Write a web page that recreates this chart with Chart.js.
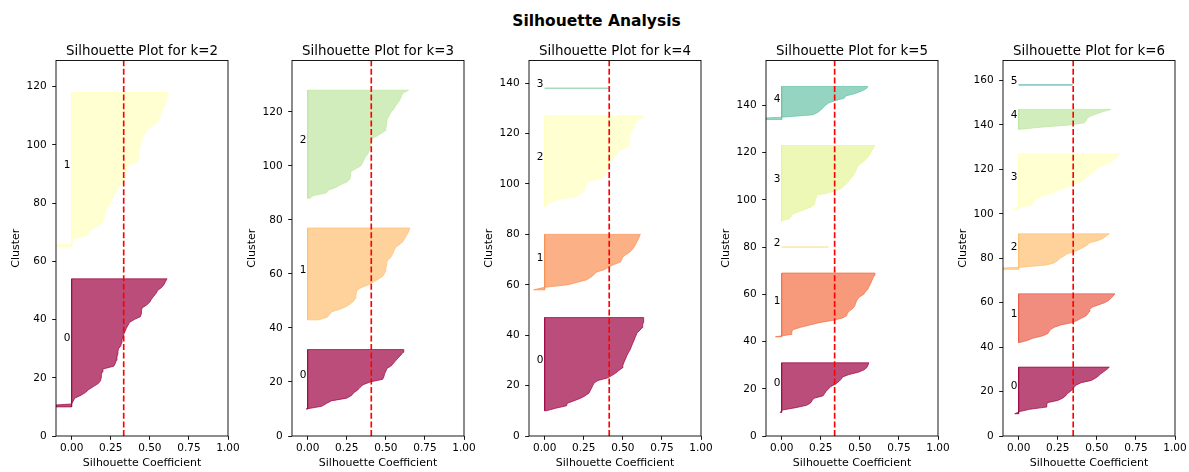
<!DOCTYPE html>
<html>
<head>
<meta charset="utf-8">
<title>Silhouette Analysis</title>
<script src="https://cdn.jsdelivr.net/npm/chart.js@4.4.1/dist/chart.umd.min.js"></script>
<style>
  html, body { margin: 0; padding: 0; background: #fff; }
  #fig { position: relative; width: 1189px; height: 472px; overflow: hidden; }
  #suptitle {
    position: absolute; left: 2px; top: 12px; width: 1189px; margin: 0;
    text-align: center; font: bold 15.5px "DejaVu Sans", sans-serif; color: #000;
  }
  .panel { position: absolute; top: 0; }
</style>
</head>
<body>
<div id="fig">
  <h1 id="suptitle">Silhouette Analysis</h1>
</div>
<script>
// Number of clusters for each panel and the mean silhouette score of each clustering
const kValues = [2, 3, 4, 5, 6];
const avgScores = [0.333, 0.407, 0.413, 0.339, 0.349];

// Axis ticks
const xTickValues = [0, 0.25, 0.5, 0.75, 1.0];
const yTickStep = 20;

// Sorted silhouette coefficients of the samples in each cluster
const silK2 = [
  [-0.3, 0.00, 0.01, 0.02, 0.06, 0.09, 0.11, 0.14, 0.17, 0.185, 0.188, 0.19, 0.195, 0.20, 0.27, 0.28, 0.285, 0.29, 0.293, 0.296, 0.30, 0.315, 0.318, 0.322, 0.328, 0.334, 0.342, 0.35, 0.36, 0.37, 0.40, 0.44, 0.445, 0.447, 0.45, 0.48, 0.50, 0.51, 0.525, 0.54, 0.55, 0.575, 0.59, 0.60, 0.61],
  [-0.3, 0.00, 0.01, 0.03, 0.10, 0.11, 0.125, 0.16, 0.19, 0.205, 0.207, 0.21, 0.215, 0.22, 0.237, 0.245, 0.255, 0.263, 0.275, 0.286, 0.292, 0.305, 0.33, 0.34, 0.342, 0.345, 0.348, 0.352, 0.357, 0.42, 0.425, 0.428, 0.43, 0.432, 0.435, 0.438, 0.442, 0.448, 0.46, 0.468, 0.485, 0.50, 0.53, 0.55, 0.56, 0.565, 0.57, 0.58, 0.595, 0.598, 0.60, 0.61, 0.615, 0.617]
];
const silK3 = [
  [-0.01, 0.09, 0.12, 0.15, 0.25, 0.28, 0.295, 0.32, 0.335, 0.355, 0.40, 0.48, 0.488, 0.492, 0.50, 0.507, 0.535, 0.55, 0.565, 0.58, 0.597, 0.61, 0.615],
  [0.07, 0.125, 0.14, 0.155, 0.21, 0.25, 0.275, 0.295, 0.304, 0.308, 0.312, 0.316, 0.345, 0.39, 0.42, 0.45, 0.478, 0.49, 0.497, 0.50, 0.503, 0.506, 0.51, 0.53, 0.54, 0.548, 0.555, 0.565, 0.59, 0.61, 0.62, 0.63, 0.64, 0.648, 0.653],
  [0.015, 0.035, 0.12, 0.13, 0.18, 0.21, 0.25, 0.27, 0.272, 0.275, 0.278, 0.31, 0.34, 0.35, 0.358, 0.365, 0.38, 0.39, 0.395, 0.40, 0.403, 0.407, 0.41, 0.44, 0.47, 0.495, 0.50, 0.502, 0.505, 0.508, 0.515, 0.525, 0.535, 0.55, 0.56, 0.572, 0.585, 0.595, 0.60, 0.61, 0.645]
];
const silK4 = [
  [0.01, 0.07, 0.14, 0.145, 0.19, 0.23, 0.26, 0.283, 0.292, 0.30, 0.308, 0.316, 0.34, 0.40, 0.43, 0.455, 0.475, 0.496, 0.50, 0.506, 0.513, 0.52, 0.527, 0.535, 0.545, 0.552, 0.558, 0.565, 0.572, 0.578, 0.585, 0.592, 0.61, 0.623, 0.627, 0.63, 0.632, 0.635],
  [-0.07, 0.0, 0.15, 0.21, 0.27, 0.295, 0.315, 0.33, 0.38, 0.41, 0.44, 0.485, 0.493, 0.50, 0.52, 0.545, 0.56, 0.572, 0.582, 0.59, 0.598, 0.605, 0.612],
  [0.0, 0.015, 0.05, 0.10, 0.205, 0.22, 0.25, 0.255, 0.262, 0.268, 0.272, 0.35, 0.38, 0.392, 0.40, 0.403, 0.406, 0.41, 0.425, 0.44, 0.45, 0.462, 0.474, 0.50, 0.535, 0.538, 0.54, 0.542, 0.545, 0.55, 0.558, 0.565, 0.572, 0.58, 0.59, 0.61, 0.632],
  [0.41]
];
const silK5 = [
  [-0.01, 0.005, 0.09, 0.16, 0.185, 0.195, 0.207, 0.265, 0.275, 0.285, 0.30, 0.315, 0.345, 0.365, 0.38, 0.39, 0.43, 0.49, 0.527, 0.545, 0.552, 0.558],
  [-0.04, 0.06, 0.065, 0.07, 0.12, 0.18, 0.24, 0.33, 0.39, 0.417, 0.42, 0.435, 0.455, 0.467, 0.472, 0.478, 0.486, 0.50, 0.525, 0.535, 0.55, 0.557, 0.565, 0.572, 0.578, 0.585, 0.592, 0.597],
  [0.30],
  [-0.005, 0.05, 0.062, 0.068, 0.11, 0.15, 0.19, 0.207, 0.212, 0.216, 0.22, 0.224, 0.30, 0.35, 0.385, 0.40, 0.418, 0.43, 0.44, 0.455, 0.465, 0.472, 0.478, 0.484, 0.50, 0.52, 0.537, 0.55, 0.562, 0.57, 0.578, 0.586, 0.595],
  [-0.3, 0.0, 0.20, 0.23, 0.25, 0.265, 0.28, 0.30, 0.34, 0.40, 0.41, 0.47, 0.51, 0.54, 0.552]
];
const silK6 = [
  [-0.025, 0.006, 0.07, 0.175, 0.18, 0.183, 0.25, 0.28, 0.30, 0.31, 0.33, 0.345, 0.355, 0.37, 0.40, 0.465, 0.49, 0.51, 0.525, 0.545, 0.565, 0.58],
  [0.0, 0.056, 0.09, 0.15, 0.185, 0.195, 0.205, 0.23, 0.27, 0.34, 0.375, 0.40, 0.43, 0.443, 0.45, 0.455, 0.47, 0.51, 0.55, 0.575, 0.59, 0.605, 0.615],
  [-0.3, 0.02, 0.18, 0.23, 0.25, 0.265, 0.29, 0.31, 0.36, 0.39, 0.415, 0.44, 0.455, 0.51, 0.54, 0.56, 0.58],
  [-0.04, 0.006, 0.09, 0.095, 0.10, 0.12, 0.155, 0.2, 0.235, 0.26, 0.31, 0.35, 0.388, 0.41, 0.428, 0.445, 0.465, 0.48, 0.495, 0.51, 0.55, 0.58, 0.605, 0.62, 0.635, 0.645],
  [0.0, 0.14, 0.33, 0.42, 0.432, 0.438, 0.46, 0.50, 0.54, 0.59],
  [0.345]
];
const silhouettes = [silK2, silK3, silK4, silK5, silK6];

// Spectral colormap sampled at i / k
const palettes = [
  [[158, 1, 66], [255, 255, 191]],
  [[158, 1, 66], [253, 191, 111], [191, 229, 160]],
  [[158, 1, 66], [249, 142, 82], [255, 255, 191], [137, 208, 165]],
  [[158, 1, 66], [244, 109, 67], [254, 224, 139], [230, 245, 152], [102, 194, 165]],
  [[158, 1, 66], [234, 93, 71], [253, 191, 111], [255, 255, 191], [191, 229, 160], [85, 175, 173]]
];

const FONT = '"DejaVu Sans", sans-serif';
const GAP = 10;
const panelLeft = [56, 292, 529, 766, 1003];
const plotWidth = 172;
const plotTop = 60.5;
const titleBaseline = 55;
const yAxisWidth = 56;
const rightPad = 16;

// Panel title, closed plotting-area frame and cluster numbers
const panelDecor = {
  id: 'panelDecor',
  afterDatasetsDraw(chart, args, opts) {
    const { ctx, chartArea: a, scales: { x, y } } = chart;
    ctx.save();
    ctx.fillStyle = '#000';
    ctx.font = '13.4px ' + FONT;
    ctx.textAlign = 'center';
    ctx.textBaseline = 'alphabetic';
    ctx.fillText(opts.title, (a.left + a.right) / 2, titleBaseline);

    ctx.font = '10.5px ' + FONT;
    ctx.textAlign = 'left';
    for (const it of opts.items || []) {
      ctx.fillText(it.text, x.getPixelForValue(it.x), y.getPixelForValue(it.y));
    }
    ctx.strokeStyle = '#000';
    ctx.lineWidth = 0.9;
    ctx.strokeRect(a.left, a.top, a.right - a.left, a.bottom - a.top);
    ctx.restore();
  }
};

kValues.forEach((k, p) => {
  const clusters = silhouettes[p];
  const total = clusters.reduce((s, c) => s + c.length, 0);
  const yMax = total + (k + 1) * GAP;
  const datasets = [];
  const labels = [];

  // red dashed line at the mean score
  datasets.push({
    data: [{ x: avgScores[p], y: 0 }, { x: avgScores[p], y: yMax }],
    borderColor: 'rgb(255,0,0)', borderWidth: 1.65, borderDash: [6, 2.6],
    pointRadius: 0, fill: false, order: 0, clip: 0
  });

  let yLower = GAP;
  clusters.forEach((vals, i) => {
    const pts = [{ x: 0, y: yLower }];
    vals.forEach((v, j) => pts.push({ x: v, y: yLower + j }));
    pts.push({ x: 0, y: yLower + vals.length - 1 });
    pts.push({ x: 0, y: yLower });
    const [r, g, b] = palettes[p][i];
    const col = `rgba(${r},${g},${b},0.7)`;
    datasets.push({
      data: pts, backgroundColor: col, borderColor: col, borderWidth: 1,
      pointRadius: 0, tension: 0, fill: 'shape', order: 1, clip: 0
    });
    labels.push({ text: String(i), x: -0.05, y: yLower + 0.5 * vals.length });
    yLower += vals.length + GAP;
  });

  const canvas = document.createElement('canvas');
  canvas.className = 'panel';
  const cw = yAxisWidth + plotWidth + rightPad;
  canvas.width = cw; canvas.height = 472;
  canvas.style.left = (panelLeft[p] - yAxisWidth) + 'px';
  canvas.style.width = cw + 'px'; canvas.style.height = '472px';
  document.getElementById('fig').appendChild(canvas);

  const tickFont = { family: FONT, size: 10.5 };
  const labelFont = { family: FONT, size: 11 };

  new Chart(canvas, {
    type: 'line',
    data: { datasets },
    plugins: [panelDecor],
    options: {
      responsive: false, animation: false, devicePixelRatio: 1,
      events: [],
      layout: { padding: { left: 0, right: rightPad, top: plotTop, bottom: 0 } },
      plugins: {
        legend: { display: false },
        tooltip: { enabled: false },
        title: { display: false },
        panelDecor: { items: labels, title: `Silhouette Plot for k=${k}` }
      },
      scales: {
        x: {
          type: 'linear', min: -0.1, max: 1.0, bounds: 'data',
          afterBuildTicks: s => { s.ticks = xTickValues.map(v => ({ value: v })); },
          afterFit: s => { s.height = 36; },
          ticks: { callback: v => v.toFixed(2), color: '#000', font: tickFont, padding: 2.6, maxRotation: 0, autoSkip: false },
          grid: { display: true, drawOnChartArea: false, drawTicks: true, tickLength: 3.85, color: '#000', lineWidth: 0.9 },
          border: { display: false },
          title: { display: true, text: 'Silhouette Coefficient', color: '#000', font: labelFont, padding: { top: 0, bottom: 2.2 } }
        },
        y: {
          type: 'linear', min: 0, max: yMax, bounds: 'data',
          afterBuildTicks: s => {
            const t = [];
            for (let v = 0; v <= yMax; v += yTickStep) t.push({ value: v });
            s.ticks = t;
          },
          afterFit: s => { s.width = yAxisWidth; },
          ticks: { color: '#000', font: tickFont, padding: 5.5, autoSkip: false },
          grid: { display: true, drawOnChartArea: false, drawTicks: true, tickLength: 3.85, color: '#000', lineWidth: 0.9 },
          border: { display: false },
          title: { display: true, text: 'Cluster', color: '#000', font: labelFont, padding: { top: 9.7, bottom: 0 } }
        }
      }
    }
  });
});
</script>
</body>
</html>
